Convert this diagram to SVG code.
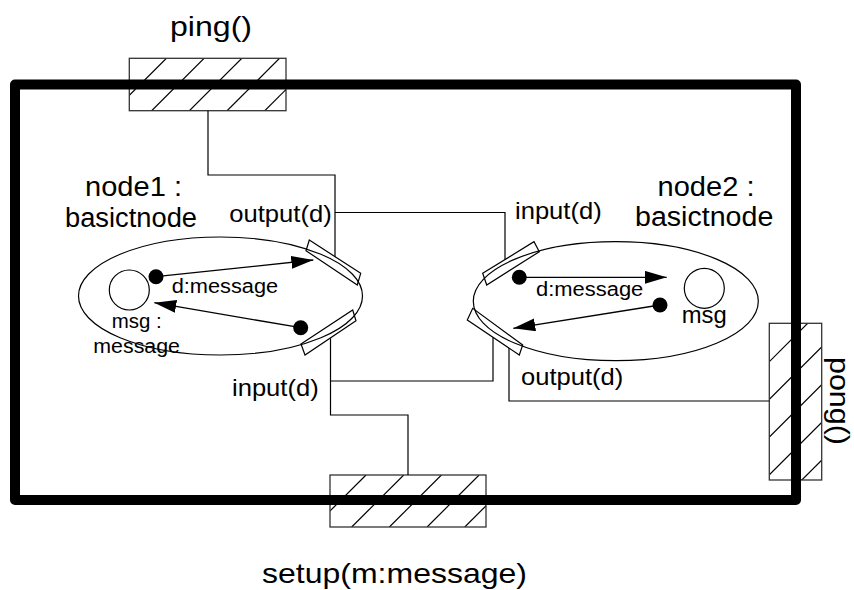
<svg xmlns="http://www.w3.org/2000/svg" width="854" height="590" viewBox="0 0 854 590">
<style>
text{font-family:"Liberation Sans",Arial,sans-serif;fill:#000}
.big{font-size:28px}
.lbl{font-size:27px}
.port-lbl{font-size:24px}
.sm{font-size:20px}
.hatch-box{fill:none;stroke:#333;stroke-width:1.3}
.hatch{stroke:#000;stroke-width:1.2}
.port{fill:none;stroke:#000;stroke-width:1.2}
.ell{fill:none;stroke:#000;stroke-width:1.2}
.conn{fill:none;stroke:#000;stroke-width:1.2}
.arr{stroke:#000;stroke-width:1.3;marker-end:url(#ah)}
.dot{fill:#000}
</style>
<defs>
<marker id="ah" markerUnits="userSpaceOnUse" markerWidth="24" markerHeight="14" refX="22" refY="6.5" orient="auto">
<path d="M0,0 L22,6.5 L0,13 z" fill="#000"/>
</marker>
<clipPath id="cpPing"><rect x="129.3" y="58.3" width="156.7" height="52.4"/></clipPath>
<clipPath id="cpSetup"><rect x="330" y="475" width="156" height="52"/></clipPath>
<clipPath id="cpPong"><rect x="769.3" y="323.3" width="52.4" height="156.7"/></clipPath>
</defs>
<rect width="854" height="590" fill="#fff"/>

<g id="ping">
<g clip-path="url(#cpPing)" class="hatch">
<line x1="114" y1="110.7" x2="166.4" y2="58.3"/>
<line x1="151.7" y1="110.7" x2="204.1" y2="58.3"/>
<line x1="189.4" y1="110.7" x2="241.8" y2="58.3"/>
<line x1="227.1" y1="110.7" x2="279.5" y2="58.3"/>
<line x1="264.8" y1="110.7" x2="317.2" y2="58.3"/>
</g>
<rect class="hatch-box" x="129.3" y="58.3" width="156.7" height="52.4"/>
<text class="big" x="170" y="36" textLength="82" lengthAdjust="spacingAndGlyphs">ping()</text>
</g>

<g id="setup">
<g clip-path="url(#cpSetup)" class="hatch">
<line x1="314" y1="527" x2="366" y2="475"/>
<line x1="351.7" y1="527" x2="403.7" y2="475"/>
<line x1="389.4" y1="527" x2="441.4" y2="475"/>
<line x1="427.1" y1="527" x2="479.1" y2="475"/>
<line x1="464.8" y1="527" x2="516.8" y2="475"/>
</g>
<rect class="hatch-box" x="330" y="475" width="156" height="52"/>
<text class="big" x="262" y="583" textLength="265" lengthAdjust="spacingAndGlyphs">setup(m:message)</text>
</g>

<g id="pong">
<g clip-path="url(#cpPong)" class="hatch">
<line x1="769.3" y1="324" x2="821.7" y2="271.6"/>
<line x1="769.3" y1="361.7" x2="821.7" y2="309.3"/>
<line x1="769.3" y1="399.4" x2="821.7" y2="347"/>
<line x1="769.3" y1="437.1" x2="821.7" y2="384.7"/>
<line x1="769.3" y1="474.8" x2="821.7" y2="422.4"/>
<line x1="769.3" y1="512.5" x2="821.7" y2="460.1"/>
</g>
<rect class="hatch-box" x="769.3" y="323.3" width="52.4" height="156.7"/>
<text class="big" transform="translate(830,401) rotate(90)" text-anchor="middle" textLength="88" lengthAdjust="spacingAndGlyphs">pong()</text>
</g>

<g id="container">
<rect x="15" y="84.5" width="781" height="415.5" fill="none" stroke="#000" stroke-width="10" stroke-linejoin="round"/>
</g>

<g id="connectors">
<path class="conn" d="M208,110.7 V175 H335 V256.7"/>
<path class="conn" d="M335,212.5 H505 V259.6"/>
<path class="conn" d="M330.5,338.2 V415 H408 V475"/>
<path class="conn" d="M330.5,381 H493 V337.3"/>
<path class="conn" d="M509,348 V401 H769.3"/>
</g>

<g id="node1">
<ellipse class="ell" cx="220.5" cy="296" rx="142" ry="59"/>
<circle cx="129.3" cy="290" r="20" fill="none" stroke="#000" stroke-width="1.2"/>
<polygon class="port" points="309.3,240 360.7,273.3 357.3,285 306,250.7"/>
<polygon class="port" points="301,344 352.7,310 356,320.7 305,355"/>
<circle class="dot" cx="156" cy="276.7" r="7.5"/>
<line class="arr" x1="156" y1="276.7" x2="313.3" y2="260"/>
<circle class="dot" cx="300.7" cy="327.7" r="7.5"/>
<line class="arr" x1="300.7" y1="327.7" x2="154.3" y2="302.7"/>
<text class="lbl" x="85" y="196" textLength="97" lengthAdjust="spacingAndGlyphs">node1 :</text>
<text class="lbl" x="65" y="226.7" textLength="132" lengthAdjust="spacingAndGlyphs">basictnode</text>
<text class="port-lbl" x="229.3" y="221.7" textLength="102.4" lengthAdjust="spacingAndGlyphs">output(d)</text>
<text class="port-lbl" x="232" y="396" textLength="86.7" lengthAdjust="spacingAndGlyphs">input(d)</text>
<text class="sm" x="171.7" y="293.3" textLength="106.5" lengthAdjust="spacingAndGlyphs">d:message</text>
<text class="sm" x="111.7" y="328.3" textLength="50" lengthAdjust="spacingAndGlyphs">msg :</text>
<text class="sm" x="93.3" y="353.3" textLength="86.7" lengthAdjust="spacingAndGlyphs">message</text>
</g>

<g id="node2">
<ellipse class="ell" cx="615.8" cy="301.2" rx="142.5" ry="59.5"/>
<circle cx="704.3" cy="288.3" r="20" fill="none" stroke="#000" stroke-width="1.2"/>
<polygon class="port" points="482.7,273.3 534,241.7 539.3,251.7 486.7,285"/>
<polygon class="port" points="467.3,320 472.7,308.3 522.7,345 519.3,355"/>
<circle class="dot" cx="519.3" cy="277.3" r="7.5"/>
<line class="arr" x1="519.3" y1="277.3" x2="666.7" y2="277.3"/>
<circle class="dot" cx="660" cy="305" r="7.5"/>
<line class="arr" x1="660" y1="305" x2="513.3" y2="328.3"/>
<text class="lbl" x="706" y="196" text-anchor="middle" textLength="97" lengthAdjust="spacingAndGlyphs">node2 :</text>
<text class="lbl" x="635" y="226" textLength="138.3" lengthAdjust="spacingAndGlyphs">basictnode</text>
<text class="port-lbl" x="515" y="219" textLength="86.7" lengthAdjust="spacingAndGlyphs">input(d)</text>
<text class="port-lbl" x="521" y="385" textLength="102.3" lengthAdjust="spacingAndGlyphs">output(d)</text>
<text class="sm" x="536" y="296" textLength="107.3" lengthAdjust="spacingAndGlyphs">d:message</text>
<text class="port-lbl" x="681.7" y="322.5" textLength="45" lengthAdjust="spacingAndGlyphs">msg</text>
</g>
</svg>
